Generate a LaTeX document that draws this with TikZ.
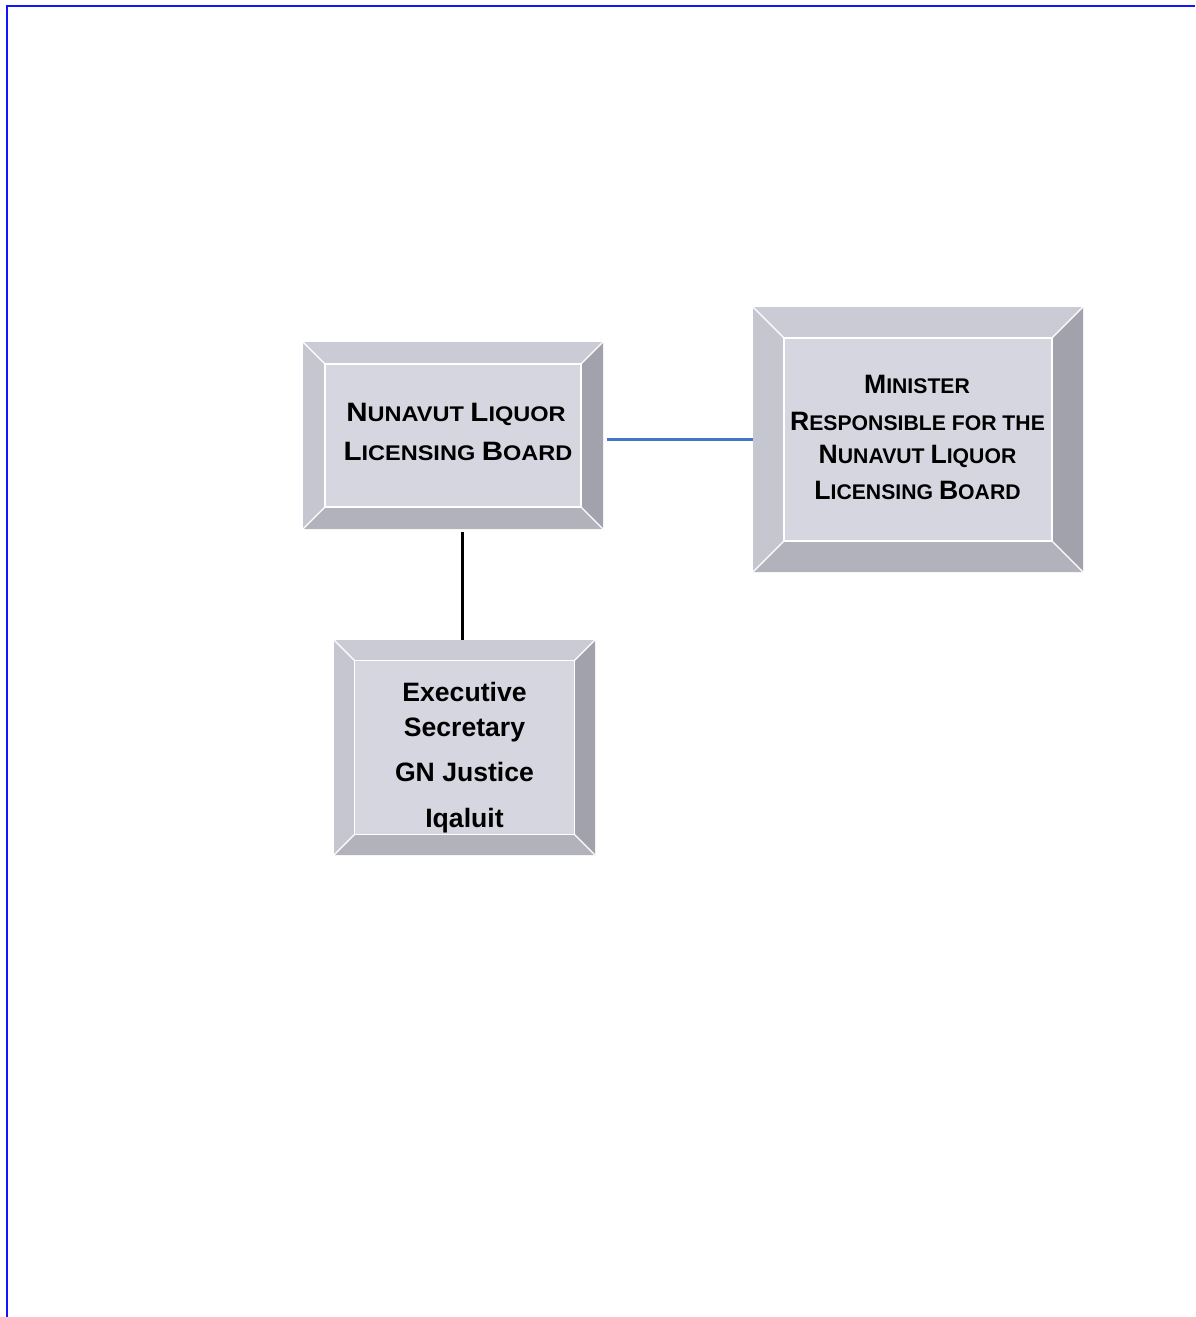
\documentclass[tikz,border=0pt]{standalone}
\usepackage{fontspec}
\setmainfont{Liberation Sans}
\newfontfamily\wideface{Liberation Sans}[FakeStretch=1.11]
\newcommand\Bg[1]{{\fontsize{26.6pt}{30pt}\selectfont #1}}
\newcommand\bevelbox[6]{% name, x1, y1, x2, y2, b
  \fill[bvtop] (#2,#3) -- (#4,#3) -- ({#4-#6},{#3+#6}) -- ({#2+#6},{#3+#6}) -- cycle;
  \fill[bvleft] (#2,#3) -- ({#2+#6},{#3+#6}) -- ({#2+#6},{#5-#6}) -- (#2,#5) -- cycle;
  \fill[bvright] (#4,#3) -- ({#4-#6},{#3+#6}) -- ({#4-#6},{#5-#6}) -- (#4,#5) -- cycle;
  \fill[bvbottom] (#2,#5) -- ({#2+#6},{#5-#6}) -- ({#4-#6},{#5-#6}) -- (#4,#5) -- cycle;
  \fill[bvface] ({#2+#6},{#3+#6}) rectangle ({#4-#6},{#5-#6});
  \draw[bvsep] ({#2+#6},{#3+#6}) rectangle ({#4-#6},{#5-#6});
  \draw[bvsep] (#2,#3) -- ({#2+#6},{#3+#6});
  \draw[bvsep] (#4,#3) -- ({#4-#6},{#3+#6});
  \draw[bvsep] (#2,#5) -- ({#2+#6},{#5-#6});
  \draw[bvsep] (#4,#5) -- ({#4-#6},{#5-#6});
  \path (#2,#3) -- (#4,#5) node[midway, draw=none, inner sep=0pt, minimum width={#4-#2}, minimum height={#5-#3}] (#1) {};
}
\begin{document}
\begin{tikzpicture}[x=1pt,y=-1pt,
  bvtop/.style={fill={rgb,255:red,203;green,203;blue,213}},
  bvleft/.style={fill={rgb,255:red,198;green,198;blue,208}},
  bvright/.style={fill={rgb,255:red,162;green,162;blue,172}},
  bvbottom/.style={fill={rgb,255:red,178;green,178;blue,188}},
  bvface/.style={fill={rgb,255:red,214;green,214;blue,224}},
  bvsep/.style={draw=white, line width=1.3pt},
  txt/.style={anchor=base, inner sep=0pt, font=\bfseries},
  sctext/.style={txt, font=\bfseries\fontsize{21.2pt}{30pt}\selectfont},
  sctextwide/.style={txt, font=\bfseries\wideface\fontsize{21.2pt}{30pt}\selectfont},
  plaintext/.style={txt, font=\bfseries\fontsize{26.6pt}{30pt}\selectfont},
  blueline/.style={draw={rgb,255:red,68;green,118;blue,196}, line width=2.2pt},
  blackline/.style={draw=black, line width=2.2pt},
  frame/.style={draw={rgb,255:red,20;green,20;blue,255}, line width=2.2pt}]
\useasboundingbox (0,0) rectangle (1195,1317);
\fill[white] (0,0) rectangle (1195,1317);
% page frame
\coordinate (fa) at (1195,6);
\coordinate (fb) at (7,6);
\coordinate (fc) at (7,1317);
\draw[frame] (fa) -- (fb) -- (fc);
% boxes
\bevelbox{nllb}{303}{342}{603}{529}{22}
\bevelbox{minister}{753}{307}{1083}{572}{31}
\bevelbox{exec}{334}{640}{595}{855}{20.5}
% texts
\node[sctextwide] (n1) at (456,421.7) {\Bg{N}UNAVUT \Bg{L}IQUOR};
\node[sctextwide] (n2) at (458,460) {\Bg{L}ICENSING \Bg{B}OARD};
\node[sctext] (m1) at (917,393.3) {\Bg{M}INISTER};
\node[sctext] (m2) at (917.5,430) {\Bg{R}ESPONSIBLE FOR THE};
\node[sctext] (m3) at (917.5,463.3) {\Bg{N}UNAVUT \Bg{L}IQUOR};
\node[sctext] (m4) at (917.5,499) {\Bg{L}ICENSING \Bg{B}OARD};
\node[plaintext] (e1) at (464.5,701.7) {Executive};
\node[plaintext] (e2) at (464.5,736) {Secretary};
\node[plaintext] (e3) at (464.5,781.7) {GN Justice};
\node[plaintext] (e4) at (464.5,827.7) {Iqaluit};
% connectors
\draw[blueline] ([xshift=4pt]nllb.east |- minister.west) -- (minister.west);
\draw[blackline] ([xshift=-2pt,yshift=-3pt]exec.north |- nllb.south) -- ([xshift=-2pt]exec.north);
\end{tikzpicture}
\end{document}
